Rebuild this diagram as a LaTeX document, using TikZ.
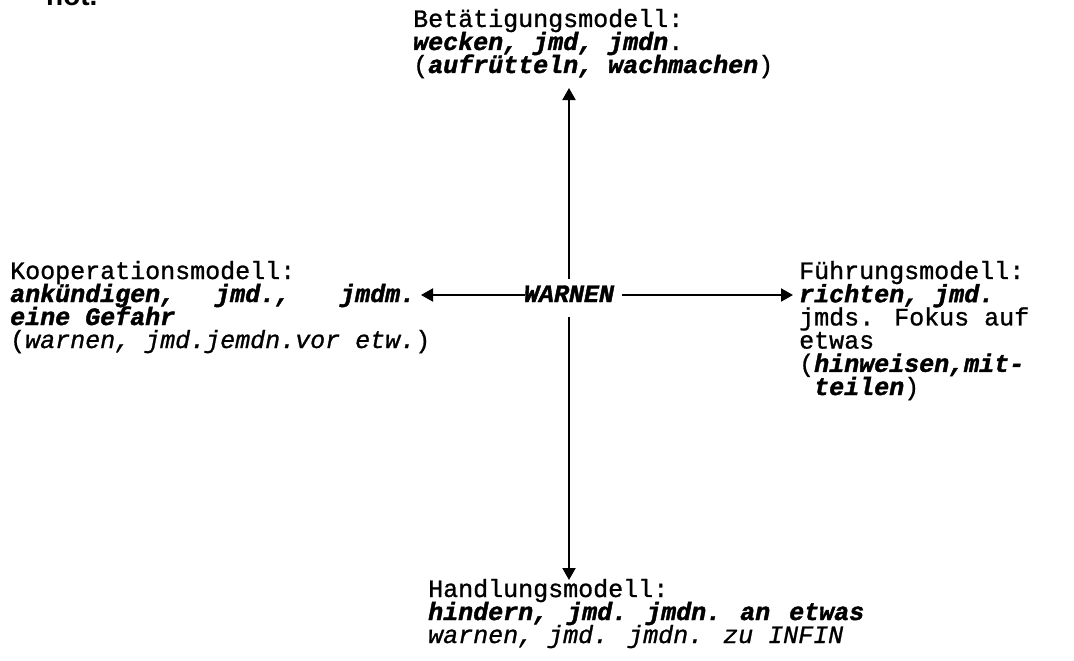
\documentclass[tikz,border=0pt]{standalone}
\usepackage{fontspec}
\newfontfamily\tw{Liberation Mono}[FakeBold=1.0,BoldItalicFeatures={FakeBold=1.6}]
\newfontfamily\sansf{Liberation Sans}
\usetikzlibrary{arrows.meta}
\newcommand{\bi}[1]{{\bfseries\itshape #1}}
\newcommand{\mi}[1]{{\itshape #1}}
\newcommand{\gap}[1]{\hspace*{#1pt}}
\begin{document}
\begin{tikzpicture}[x=1pt,y=-1pt,
  txt/.style={anchor=base west, inner sep=0pt, text height=15pt, text depth=5pt, font=\tw\fontsize{25}{23}\selectfont},
  arr/.style={line width=2pt, -{Triangle[length=12pt,width=13pt]}}]
\useasboundingbox (0,0) rectangle (1074,661);
\clip (0,0) rectangle (1074,661);
% fragment from the previous page
\node[anchor=base west, inner sep=0pt, font=\sansf\bfseries\fontsize{28}{30}\selectfont] (frag) at (46,6) {not.};
% top block
\node[txt] (t1) at (413,27) {Betätigungsmodell:};
\node[txt] (t2) at (413,50) {\bi{wecken, jmd, jmdn}.};
\node[txt] (t3) at (413,73) {(\bi{aufrütteln, wachmachen})};
% left block
\node[txt] (l1) at (10,279) {Kooperationsmodell:};
\node[txt] (l2) at (10,302) {\bi{ankündigen,\gap{40}jmd.,\gap{50}jmdm.}};
\node[txt] (l3) at (10,325) {\bi{eine Gefahr}};
\node[txt] (l4) at (10,348) {(\mi{warnen, jmd.jemdn.vor etw.})};
% right block
\node[txt] (r1) at (799,279) {Führungsmodell:};
\node[txt] (r2) at (799,302.2) {\bi{richten, jmd.}};
\node[txt] (r3) at (799,325.4) {jmds. Fokus auf};
\node[txt] (r4) at (799,348.6) {etwas};
\node[txt] (r5) at (799,371.8) {(\bi{hinweisen,mit-}};
\node[txt] (r6) at (814,395) {\bi{teilen})};
% bottom block
\node[txt] (b1) at (428,597) {Handlungsmodell:};
\node[txt] (b2) at (428,620) {\bi{hindern,\gap{19}jmd.\gap{19}jmdn.\gap{19}an\gap{19}etwas}};
\node[txt] (b3) at (428,643) {\mi{warnen, jmd. jmdn. zu INFIN}};
% centre
\node[anchor=base, inner sep=0pt, font=\tw\bfseries\itshape\fontsize{25}{23}\selectfont] (w) at (569,302) {WARNEN};
\coordinate (vup) at (569,279);
\coordinate (vdn) at (569,317);
\coordinate (tipU) at (569,88);
\coordinate (tipD) at (569,580);
\coordinate (hl) at (525,295);
\coordinate (hr) at (622,295);
\coordinate (tipL) at (421,295);
\coordinate (tipR) at (793,295);
\draw[arr] (vup) -- (tipU);
\draw[arr] (vdn) -- (tipD);
\draw[arr] (hl) -- (tipL);
\draw[arr] (hr) -- (tipR);
\end{tikzpicture}
\end{document}
